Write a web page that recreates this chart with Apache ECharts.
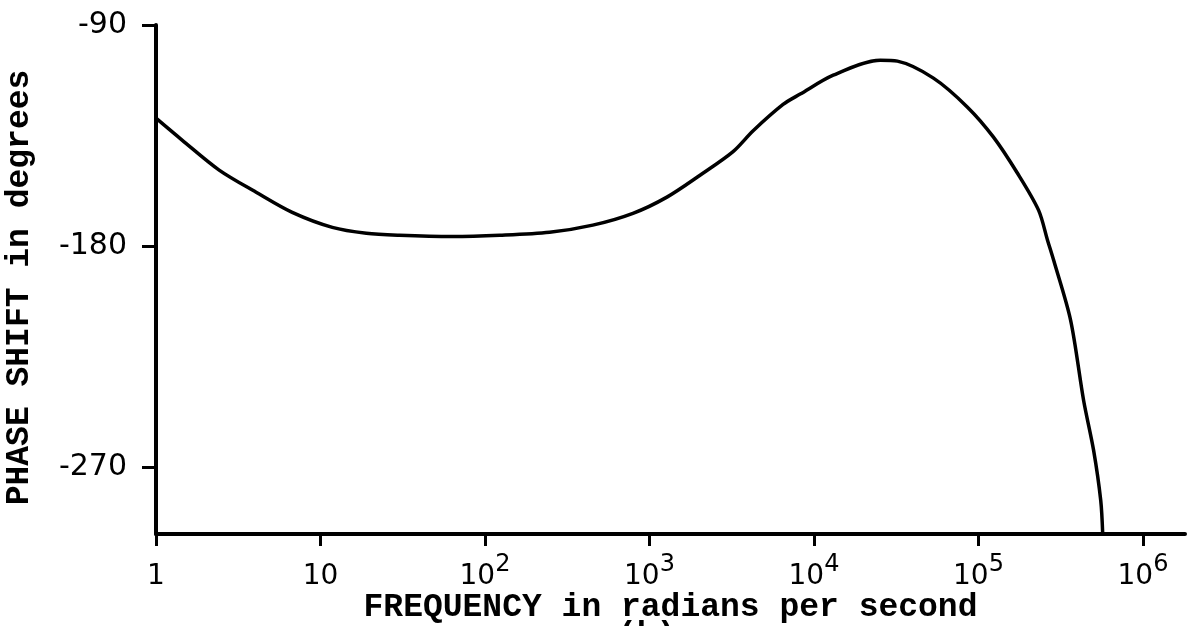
<!DOCTYPE html>
<html>
<head>
<meta charset="utf-8">
<script src="https://cdn.jsdelivr.net/npm/echarts@6/dist/echarts.min.js"></script>
<style>
html,body{margin:0;padding:0;background:#fff;}
#chart{width:1187px;height:626px;}
</style>
</head>
<body>
<div id="chart"></div>
<script>
// Frequency (rad/s)
const frequencies = [1, 1.44, 2.42, 4.06, 6.73, 11.8, 19.0, 30.2, 63, 123, 247, 452, 793, 1276, 2028, 3221, 4266, 6486, 8241, 13090, 25290, 32140, 53210, 85700, 123300, 172600, 231700, 263000, 286400, 363100, 435500, 501200, 553400, 568900];
// Phase shift in degrees
const phases = [-127.9, -136.8, -149.0, -158.0, -166.2, -172.3, -174.7, -175.5, -176.0, -175.5, -174.3, -171.4, -166.6, -160.0, -151.1, -141.5, -133.0, -122.3, -118.1, -110.4, -104.3, -104.7, -111.6, -123.4, -135.6, -150.3, -165.3, -177.6, -185.7, -210.1, -242.7, -263.1, -283.4, -297];
const xTickValues = [1, 10, 100, 1000, 10000, 100000, 1000000];
const yTickValues = [-90, -180, -270];
const xAxisTitle = 'FREQUENCY in radians per second';
const yAxisTitle = 'PHASE SHIFT in degrees';

const seriesData = frequencies.map((f, i) => [f, phases[i]]);

const chart = echarts.init(document.getElementById('chart'), null, {renderer: 'canvas'});

function xLabel(v) {
  const p = Math.round(Math.log10(v));
  if (p === 0) return '{b|1}';
  if (p === 1) return '{b|10}';
  return '{b|10}{s|' + p + '}';
}

const axisLineStyle = {show: true, onZero: false, lineStyle: {color: '#000', width: 4}};
chart.setOption({
  animation: false,
  backgroundColor: '#fff',
  title: {
    text: '(b)',
    left: 612,
    top: 614,
    textStyle: {fontFamily: 'Liberation Mono', fontSize: 33, fontWeight: 'bold', color: '#000'}
  },
  grid: {left: 156, right: 2, top: 25, bottom: 92, containLabel: false, outerBoundsMode: 'none'},
  xAxis: {
    type: 'log',
    logBase: 10,
    min: 1,
    max: 1800000,
    position: 'bottom',
    name: xAxisTitle,
    nameLocation: 'middle',
    nameGap: 57,
    nameMoveOverlap: false,
    nameTextStyle: {fontFamily: 'Liberation Mono', fontSize: 33, fontWeight: 'bold', color: '#000'},
    axisLine: axisLineStyle,
    axisTick: {show: true, inside: false, length: 12, lineStyle: {color: '#000', width: 3}, customValues: xTickValues},
    minorTick: {show: false},
    splitLine: {show: false},
    minorSplitLine: {show: false},
    axisLabel: {
      customValues: xTickValues,
      margin: 27,
      color: '#000',
      formatter: xLabel,
      rich: {
        b: {fontFamily: 'DejaVu Sans', fontSize: 28, color: '#000', verticalAlign: 'bottom', lineHeight: 30},
        s: {fontFamily: 'DejaVu Sans', fontSize: 24, color: '#000', verticalAlign: 'bottom', lineHeight: 30, padding: [0, 0, 14, 0]}
      }
    }
  },
  yAxis: {
    type: 'value',
    position: 'left',
    min: -297,
    max: -90,
    name: yAxisTitle,
    nameLocation: 'middle',
    nameGap: 120,
    nameMoveOverlap: false,
    nameTextStyle: {fontFamily: 'Liberation Mono', fontSize: 33, fontWeight: 'bold', color: '#000', padding: [0, 16, 0, 0]},
    axisLine: axisLineStyle,
    axisTick: {show: true, inside: false, length: 14, lineStyle: {color: '#000', width: 3}, customValues: yTickValues},
    splitLine: {show: false},
    axisLabel: {
      customValues: yTickValues,
      margin: 29,
      color: '#000',
      fontFamily: 'DejaVu Sans',
      fontSize: 30
    }
  },
  series: [{
    type: 'line',
    data: seriesData,
    showSymbol: false,
    smooth: 0.3,
    lineStyle: {color: '#000', width: 3.5},
    z: 3
  }]
});
</script>
</body>
</html>
